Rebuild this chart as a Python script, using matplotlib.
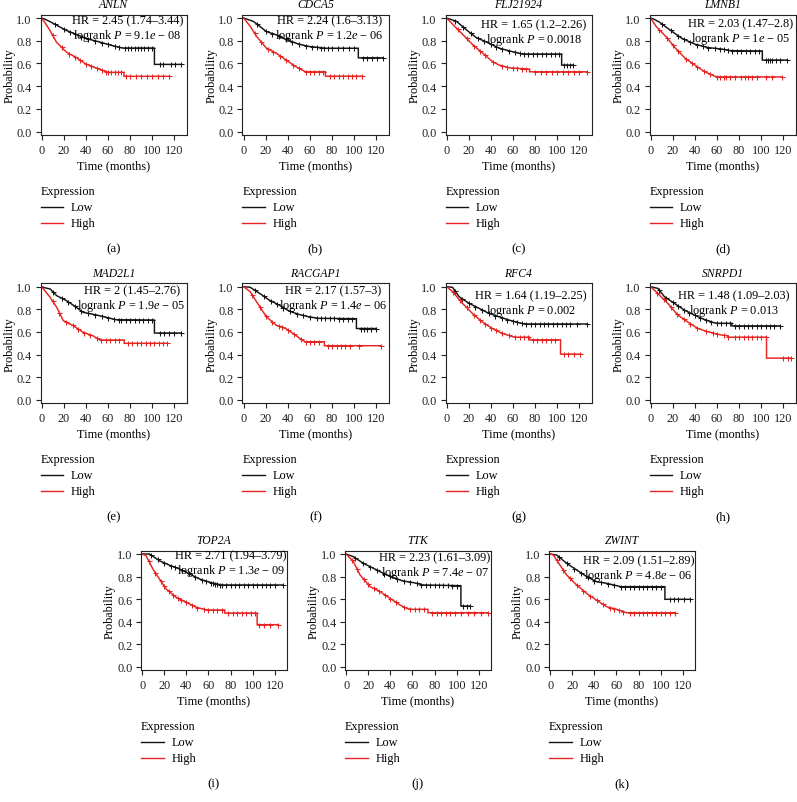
import numpy as np
import matplotlib
matplotlib.use('Agg')
import matplotlib.pyplot as plt
from matplotlib.lines import Line2D
from matplotlib.transforms import offset_copy

plt.rcParams['font.family'] = ['Liberation Serif', 'DejaVu Serif']
plt.rcParams['mathtext.fontset'] = 'custom'
plt.rcParams['mathtext.rm'] = 'Liberation Serif'
plt.rcParams['mathtext.it'] = 'Liberation Serif:italic'

# ---------------- data ----------------
GENES = ['ANLN', 'CDCA5', 'FLJ21924', 'LMNB1', 'MAD2L1', 'RACGAP1',
         'RFC4', 'SNRPD1', 'TOP2A', 'TTK', 'ZWINT']
PANEL_LABELS = ['(a)', '(b)', '(c)', '(d)', '(e)', '(f)', '(g)', '(h)', '(i)', '(j)', '(k)']
HR_TEXT = ['2.45 (1.74–3.44)', '2.24 (1.6–3.13)', '1.65 (1.2–2.26)', '2.03 (1.47–2.8)',
           '2 (1.45–2.76)', '2.17 (1.57–3)', '1.64 (1.19–2.25)', '1.48 (1.09–2.03)',
           '2.71 (1.94–3.79)', '2.23 (1.61–3.09)', '2.09 (1.51–2.89)']
P_TEXT = [r'9.1$e$ − 08', r'1.2$e$ − 06', '0.0018', r'1$e$ − 05', r'1.9$e$ − 05',
          r'1.4$e$ − 06', '0.002', '0.013', r'1.3$e$ − 09', r'7.4$e$ − 07', r'4.8$e$ − 06']
X_TICKS = [0, 20, 40, 60, 80, 100, 120]
Y_TICKS = [0.0, 0.2, 0.4, 0.6, 0.8, 1.0]
LEGEND_TITLE = 'Expression'
GROUPS = ['Low', 'High']

ANLN_LOW_T = [0, 3, 7.6, 22.5, 34, 40, 52, 64, 73, 102, 102, 126]
ANLN_LOW_S = [1.0, 0.99, 0.968, 0.89, 0.845, 0.82, 0.79, 0.757, 0.736, 0.736, 0.592, 0.592]
ANLN_LOW_C = [12, 20, 26, 30, 36, 42, 48, 55, 60, 66, 70, 75, 78, 81, 84, 87, 90, 93, 96, 100,
              107, 110, 117, 121, 126]
ANLN_HIGH_T = [0, 3, 7.6, 13.5, 22.5, 31, 40, 52, 58, 60, 74.5, 74.5, 115]
ANLN_HIGH_S = [1.0, 0.96, 0.89, 0.786, 0.70, 0.654, 0.595, 0.55, 0.528, 0.522, 0.522, 0.487, 0.487]
ANLN_HIGH_C = [10, 18, 25, 30, 35, 40, 45, 50, 55, 58, 60, 63, 66, 69, 72, 76, 80, 85, 90,
               95, 100, 105, 110, 115]

CDCA5_LOW_T = [0, 3, 8.9, 20.7, 29.6, 38.5, 50, 59, 74, 103.7, 103.7, 126]
CDCA5_LOW_S = [1, 0.99, 0.97, 0.88, 0.852, 0.81, 0.77, 0.75, 0.734, 0.734, 0.65, 0.65]
CDCA5_LOW_C = [12, 20, 26, 32, 38, 44, 50, 56, 62, 66, 70, 73, 76, 80, 85, 90, 95, 100,
               108, 112, 116, 121, 126]
CDCA5_HIGH_T = [0, 6, 11.9, 20.7, 29.6, 38.5, 47.4, 53, 56, 74, 74, 106.7]
CDCA5_HIGH_S = [1, 0.926, 0.837, 0.734, 0.69, 0.63, 0.571, 0.541, 0.527, 0.527, 0.488, 0.488]
CDCA5_HIGH_C = [10, 16, 22, 27, 33, 38, 45, 50, 56, 60, 64, 68, 72, 78, 82, 86, 90, 94, 98,
                102, 106.7]

FLJ21924_LOW_T = [0, 3, 9, 17.9, 26.8, 35.7, 47.6, 59.5, 68.5, 104, 104, 114.6]
FLJ21924_LOW_S = [1, 0.99, 0.97, 0.896, 0.828, 0.79, 0.734, 0.704, 0.683, 0.683, 0.586, 0.586]
FLJ21924_LOW_C = [8, 15, 22, 28, 34, 40, 45, 50, 56, 62, 66, 70, 74, 78, 82, 86, 90, 94, 98,
                  102, 106, 109, 112, 114.6]
FLJ21924_HIGH_T = [0, 6, 14.9, 23.8, 32.7, 41.7, 47.6, 56.5, 75, 75, 126.5]
FLJ21924_HIGH_S = [1, 0.94, 0.852, 0.763, 0.69, 0.615, 0.586, 0.562, 0.55, 0.527, 0.527]
FLJ21924_HIGH_C = [10, 18, 25, 30, 35, 42, 50, 55, 60, 64, 68, 72, 80, 85, 90, 95, 100, 105,
                   110, 115, 120, 126.5]

LMNB1_LOW_T = [0, 3, 7.9, 19.6, 28.4, 40, 51.8, 63.5, 72, 101, 101, 123.5]
LMNB1_LOW_S = [1, 0.99, 0.964, 0.88, 0.82, 0.77, 0.74, 0.728, 0.713, 0.71, 0.63, 0.63]
LMNB1_LOW_C = [10, 18, 25, 30, 36, 42, 47, 52, 58, 63, 66, 70, 74, 78, 82, 86, 90, 94, 98,
               104, 106, 108, 110, 113, 117, 123.5]
LMNB1_HIGH_T = [0, 5, 13.8, 22.5, 31.3, 40, 48.9, 57.7, 60, 119]
LMNB1_HIGH_S = [1, 0.926, 0.837, 0.734, 0.645, 0.586, 0.527, 0.49, 0.482, 0.482]
LMNB1_HIGH_C = [8, 15, 20, 25, 32, 37, 42, 48, 54, 60, 63, 66, 68, 72, 76, 82, 85, 88, 92, 96,
                104, 110, 119]

MAD2L1_LOW_T = [0, 3, 7.7, 13.7, 22.6, 31.5, 37.5, 49.4, 58.3, 67, 102, 102, 126]
MAD2L1_LOW_S = [1, 0.99, 0.98, 0.92, 0.876, 0.817, 0.773, 0.75, 0.729, 0.708, 0.705, 0.59, 0.59]
MAD2L1_LOW_C = [10, 18, 24, 30, 36, 42, 48, 55, 60, 65, 70, 72, 76, 80, 84, 88, 92, 96, 100,
                107, 111, 115, 120, 126]
MAD2L1_HIGH_T = [0, 7.7, 13.7, 19.6, 28.6, 37.5, 46.4, 51, 53, 74.7, 74.7, 113.4]
MAD2L1_HIGH_S = [1, 0.906, 0.817, 0.70, 0.655, 0.596, 0.566, 0.537, 0.528, 0.528, 0.499, 0.499]
MAD2L1_HIGH_C = [10, 16, 22, 28, 33, 38, 44, 50, 54, 58, 62, 66, 70, 78, 82, 86, 90, 94, 98,
                 102, 106, 110, 113.4]

RACGAP1_LOW_T = [0, 5.9, 14.6, 23.4, 32, 41, 49.8, 58.5, 67.3, 102, 102, 120]
RACGAP1_LOW_S = [1, 0.995, 0.94, 0.88, 0.838, 0.785, 0.755, 0.735, 0.72, 0.717, 0.63, 0.63]
RACGAP1_LOW_C = [10, 18, 25, 30, 36, 42, 48, 54, 60, 66, 70, 74, 78, 82, 86, 90, 94, 98,
                 106, 109, 112, 115, 120]
RACGAP1_HIGH_T = [0, 5.9, 11.7, 20.5, 29.3, 38, 46.8, 52.7, 56, 73, 73, 124.4]
RACGAP1_HIGH_S = [1, 0.956, 0.867, 0.735, 0.66, 0.63, 0.572, 0.528, 0.513, 0.513, 0.478, 0.478]
RACGAP1_HIGH_C = [8, 15, 20, 26, 32, 35, 40, 46, 52, 56, 60, 64, 68, 76, 80, 84, 88, 92, 96,
                  104, 124.4]

RFC4_LOW_T = [0, 5.4, 11.3, 20.2, 29, 38, 47, 56, 65, 70, 126.8]
RFC4_LOW_S = [1, 0.994, 0.912, 0.853, 0.81, 0.765, 0.735, 0.706, 0.682, 0.67, 0.67]
RFC4_LOW_C = [8, 14, 20, 26, 32, 38, 44, 50, 55, 60, 64, 68, 72, 76, 80, 84, 88, 92, 96, 100,
              104, 108, 112, 118, 126.8]
RFC4_HIGH_T = [0, 5.4, 14.3, 23.2, 32, 41, 50, 59, 62, 75, 75, 103, 103, 121]
RFC4_HIGH_S = [1, 0.956, 0.853, 0.765, 0.69, 0.632, 0.588, 0.56, 0.553, 0.553, 0.53, 0.53, 0.403, 0.403]
RFC4_HIGH_C = [6, 12, 18, 25, 30, 35, 40, 45, 50, 56, 62, 66, 70, 74, 78, 82, 86, 90, 94, 98,
               106, 110, 115, 121]

SNRPD1_LOW_T = [0, 6.5, 12.5, 21.4, 30.4, 39.3, 48, 57, 60, 73.5, 73.5, 116.7]
SNRPD1_LOW_S = [1, 0.985, 0.912, 0.853, 0.794, 0.75, 0.712, 0.682, 0.676, 0.676, 0.653, 0.653]
SNRPD1_LOW_C = [8, 14, 20, 25, 30, 35, 40, 45, 50, 55, 60, 64, 68, 72, 76, 80, 84, 88, 92, 96,
                100, 104, 108, 112, 116.7]
SNRPD1_HIGH_T = [0, 6.5, 15.5, 24.4, 33.3, 42.3, 51, 63, 70, 70, 104.8, 104.8, 127]
SNRPD1_HIGH_S = [1, 0.94, 0.853, 0.75, 0.69, 0.632, 0.603, 0.574, 0.565, 0.553, 0.553, 0.368, 0.368]
SNRPD1_HIGH_C = [6, 12, 18, 24, 30, 36, 42, 50, 56, 60, 66, 70, 76, 80, 84, 88, 92, 96, 100,
                 104, 120, 124, 127]

TOP2A_LOW_T = [0, 6.6, 15.7, 24.8, 33.8, 43, 52, 61, 67, 72, 127.5]
TOP2A_LOW_S = [1, 1.0, 0.94, 0.90, 0.867, 0.822, 0.778, 0.749, 0.734, 0.725, 0.725]
TOP2A_LOW_C = [8, 14, 20, 26, 30, 36, 42, 48, 54, 58, 62, 64, 66, 68, 70, 72, 76, 80, 84, 88,
               92, 96, 100, 104, 108, 112, 116, 120, 127.5]
TOP2A_HIGH_T = [0, 3.6, 9.7, 15.7, 21.8, 30.8, 40, 49, 55, 58, 74.6, 74.6, 104, 104, 123]
TOP2A_HIGH_S = [1, 0.985, 0.867, 0.778, 0.689, 0.615, 0.571, 0.527, 0.512, 0.503, 0.503, 0.476, 0.476, 0.373, 0.373]
TOP2A_HIGH_C = [6, 12, 17, 20, 24, 28, 32, 35, 40, 45, 50, 56, 60, 64, 68, 72, 78, 82, 86, 90,
                94, 98, 102, 106, 110, 116, 123]

TTK_LOW_T = [0, 6.6, 15.6, 24.7, 33.7, 42.7, 51.7, 60.8, 69.8, 103.8, 103.8, 112]
TTK_LOW_S = [1, 0.976, 0.917, 0.873, 0.828, 0.79, 0.76, 0.746, 0.725, 0.719, 0.538, 0.538]
TTK_LOW_C = [8, 15, 22, 28, 34, 40, 46, 52, 58, 64, 68, 72, 76, 80, 84, 88, 92, 96, 100,
             106, 109, 112]
TTK_HIGH_T = [0, 6.6, 12.6, 21.7, 30.7, 39.7, 48.7, 54.7, 58, 74, 74, 128.4]
TTK_HIGH_S = [1, 0.932, 0.814, 0.71, 0.666, 0.607, 0.547, 0.518, 0.509, 0.509, 0.479, 0.479]
TTK_HIGH_C = [5, 10, 16, 20, 25, 30, 35, 40, 45, 52, 58, 62, 66, 70, 78, 82, 86, 90, 94, 98,
              104, 110, 116, 122, 128.4]

ZWINT_LOW_T = [0, 6, 15, 24, 33, 42, 51, 60, 64, 103.8, 103.8, 126.3]
ZWINT_LOW_S = [1, 0.99, 0.917, 0.858, 0.80, 0.754, 0.74, 0.719, 0.71, 0.71, 0.598, 0.598]
ZWINT_LOW_C = [8, 15, 22, 28, 34, 40, 46, 52, 58, 64, 68, 72, 76, 80, 84, 88, 92, 96, 100,
               108, 112, 116, 121, 126.3]
ZWINT_HIGH_T = [0, 3, 9, 15, 24, 33, 42, 51, 60, 69, 112.8]
ZWINT_HIGH_S = [1, 0.99, 0.90, 0.814, 0.725, 0.65, 0.59, 0.533, 0.509, 0.479, 0.479]
ZWINT_HIGH_C = [6, 12, 18, 24, 30, 36, 42, 48, 54, 58, 62, 66, 72, 76, 80, 84, 88, 92, 96,
                100, 104, 108, 112.8]

CURVES = {
    'ANLN': (ANLN_LOW_T, ANLN_LOW_S, ANLN_LOW_C, ANLN_HIGH_T, ANLN_HIGH_S, ANLN_HIGH_C),
    'CDCA5': (CDCA5_LOW_T, CDCA5_LOW_S, CDCA5_LOW_C, CDCA5_HIGH_T, CDCA5_HIGH_S, CDCA5_HIGH_C),
    'FLJ21924': (FLJ21924_LOW_T, FLJ21924_LOW_S, FLJ21924_LOW_C, FLJ21924_HIGH_T, FLJ21924_HIGH_S, FLJ21924_HIGH_C),
    'LMNB1': (LMNB1_LOW_T, LMNB1_LOW_S, LMNB1_LOW_C, LMNB1_HIGH_T, LMNB1_HIGH_S, LMNB1_HIGH_C),
    'MAD2L1': (MAD2L1_LOW_T, MAD2L1_LOW_S, MAD2L1_LOW_C, MAD2L1_HIGH_T, MAD2L1_HIGH_S, MAD2L1_HIGH_C),
    'RACGAP1': (RACGAP1_LOW_T, RACGAP1_LOW_S, RACGAP1_LOW_C, RACGAP1_HIGH_T, RACGAP1_HIGH_S, RACGAP1_HIGH_C),
    'RFC4': (RFC4_LOW_T, RFC4_LOW_S, RFC4_LOW_C, RFC4_HIGH_T, RFC4_HIGH_S, RFC4_HIGH_C),
    'SNRPD1': (SNRPD1_LOW_T, SNRPD1_LOW_S, SNRPD1_LOW_C, SNRPD1_HIGH_T, SNRPD1_HIGH_S, SNRPD1_HIGH_C),
    'TOP2A': (TOP2A_LOW_T, TOP2A_LOW_S, TOP2A_LOW_C, TOP2A_HIGH_T, TOP2A_HIGH_S, TOP2A_HIGH_C),
    'TTK': (TTK_LOW_T, TTK_LOW_S, TTK_LOW_C, TTK_HIGH_T, TTK_HIGH_S, TTK_HIGH_C),
    'ZWINT': (ZWINT_LOW_T, ZWINT_LOW_S, ZWINT_LOW_C, ZWINT_HIGH_T, ZWINT_HIGH_S, ZWINT_HIGH_C),
}

# ---------------- layout (pixels) ----------------
W, H = 797, 803
ROW_TOP = [15.6, 284.3, 551.6]
ROW_BOT = [136.1, 404.1, 671.1]
ROW_LEFTS = [[40.5, 242.5, 445.5, 649.5], [40.5, 242.5, 445.5, 649.5], [141, 345, 549]]
AX_W = 146
HR_DX = [3.5, 4.5, 5, 2, 0.5, 1, 5, 6, 0.5, 0.5, 1]
HR_DY = [6, 6, 10.4, 9.4, 7.4, 7.4, 12.4, 12.4, 5.4, 7.4, 10.1]

FS = 8.8
BLACK = '#141414'
RED = '#e52421'


def fx(px):
    return px / W


def fy(py):
    return 1 - py / H


fig = plt.figure(figsize=(W / 100, H / 100), dpi=100)

k = 0
for r in range(3):
    top, bot = ROW_TOP[r], ROW_BOT[r]
    for left in ROW_LEFTS[r]:
        gene = GENES[k]
        ax = fig.add_axes([fx(left), fy(bot), AX_W / W, (bot - top) / H])
        lt, ls, lc, ht, hs, hc = CURVES[gene]
        for t, s, c, col in ((lt, ls, lc, BLACK), (ht, hs, hc, RED)):
            ax.plot(t, s, color=col, lw=1.05, solid_joinstyle='miter')
            ax.plot(c, np.interp(c, t, s), ls='none', marker='+', color=col,
                    markersize=3.6, mew=0.75)
        ax.set_xlim(-1, 131)
        ax.set_ylim(-0.03, 1.03)
        ax.set_xticks(X_TICKS)
        ax.set_yticks(Y_TICKS)
        ax.set_yticklabels([f'{v:.1f}' for v in Y_TICKS])
        ax.tick_params(direction='out', length=3.5, width=0.8, pad=2.8,
                       labelsize=FS, colors='#222222')
        for sp in ax.spines.values():
            sp.set_linewidth(0.8)
            sp.set_color('#222222')
        ax.text(-31 / AX_W, 0.5, 'Probability', transform=ax.transAxes, rotation=90,
                ha='center', va='center', fontsize=FS)
        ax.text(0.5, 1 + 10.5 / (bot - top), gene, transform=ax.transAxes, ha='center',
                va='center', fontsize=8.4, style='italic')
        tr = offset_copy(ax.transAxes, fig=fig, x=-HR_DX[k], y=-(HR_DY[k] - 6.8), units='dots')
        ax.text(1, 1, f'HR = {HR_TEXT[k]}\nlogrank $P$ = {P_TEXT[k]}', transform=tr,
                ha='right', va='top', multialignment='center', fontsize=FS, linespacing=1.1)

        cx = left + AX_W / 2
        fig.text(fx(cx), fy(bot + 30.6), 'Time (months)', ha='center', va='center', fontsize=FS)
        fig.text(fx(left), fy(bot + 56.2), LEGEND_TITLE, ha='left', va='center', fontsize=FS)
        for j, (g, col) in enumerate(zip(GROUPS, (BLACK, RED))):
            yy = bot + 72.2 + 16 * j
            fig.add_artist(Line2D([fx(left), fx(left + 22.5)], [fy(yy), fy(yy)],
                                  transform=fig.transFigure, color=col, lw=1.0))
            fig.text(fx(left + 30.5), fy(yy), g, ha='left', va='center', fontsize=FS)
        fig.text(fx(cx), fy(bot + 113), PANEL_LABELS[k], ha='center', va='center', fontsize=9.3)
        k += 1

fig.savefig('out.png', dpi=100)
